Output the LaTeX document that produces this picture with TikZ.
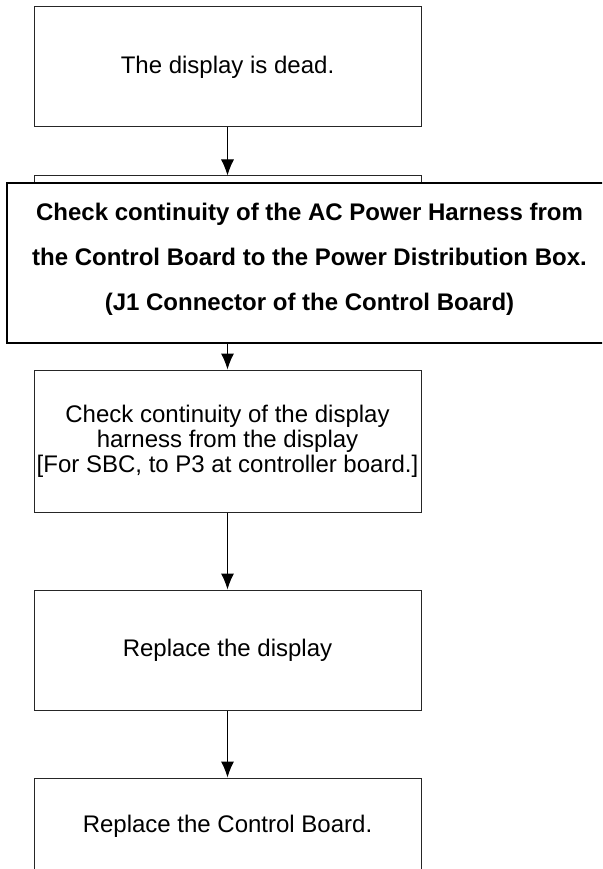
\documentclass[tikz,border=0pt]{standalone}
\usepackage{fontspec}
\setmainfont{Liberation Sans}
\usetikzlibrary{arrows.meta}

\begin{document}
\begin{tikzpicture}[x=1pt, y=-1pt, every text node part/.style={align=center},
    stepbox/.style={draw=black!85, fill=white, line width=1pt, minimum width=387pt, inner sep=0pt,
        font=\fontsize{24}{25}\selectfont},
    boldbox/.style={draw=black, fill=white, line width=2.5pt, minimum width=610pt, minimum height=160pt,
        inner sep=0pt},
    flow/.style={-{Latex[length=16pt, width=13pt]}, line width=1pt}]
        \useasboundingbox (0, 0) rectangle (602, 869);
        \clip (0, 0) rectangle (602, 869);

        \node[stepbox, minimum height=120pt](dead) at (227.5, 67){The display is dead.};
        \node[stepbox, minimum height=150pt](hidden) at (227.5, 251){};
        \node[boldbox](harness) at (312, 263){};
        \node(harnesstext) at (309.5, 259.5)[font=\fontsize{24}{45}\selectfont\bfseries]{Check continuity of the AC Power Harness from\\the Control Board to the Power Distribution Box.\\(J1 Connector of the Control Board)};
        \node[stepbox, minimum height=142pt](dispharness) at (227.5, 441){Check continuity of the display\\harness from the display\\{[}For SBC, to P3 at controller board.{]}};
        \node[stepbox, minimum height=120pt](replacedisp) at (227.5, 650){Replace the display};
        \node[stepbox, minimum height=96pt](replaceboard) at (227.5, 826){Replace the Control Board.};

        \draw[flow](dead) -- (hidden);
        \draw[flow](harness.south -| dispharness.north) -- (dispharness);
        \draw[flow](dispharness) -- (replacedisp);
        \draw[flow](replacedisp) -- (replaceboard);

    \end{tikzpicture}
\end{document}
